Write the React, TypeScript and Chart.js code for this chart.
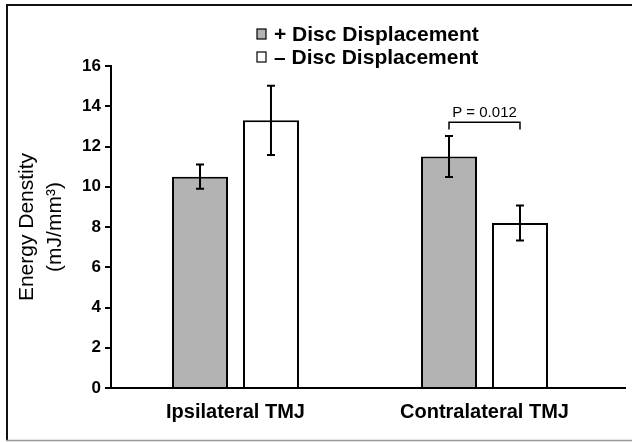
import React, { useEffect, useRef } from "react";
import { Chart, registerables } from "chart.js";

Chart.register(...registerables);

// ---- data ----
const categories = ["Ipsilateral TMJ", "Contralateral TMJ"];
const seriesLabels = ["+ Disc Displacement", "\u2013 Disc Displacement"];
const withDisplacement = [10.5, 11.5];
const withDisplacementErr = [0.6, 1.02];
const withoutDisplacement = [13.3, 8.2];
const withoutDisplacementErr = [1.72, 0.87];
const yTickValues = [0, 2, 4, 6, 8, 10, 12, 14, 16];
const yTitle = ["Energy Denstity", "(mJ/mm\u00b3)"];
const pLabel = "P = 0.012";
const pCategoryIndex = 1;
const pBracketLevel = 13.2;
const pBracketDrop = 0.35;

const FONT = "'Liberation Sans', Arial, sans-serif";
const GRAY = "#b3b3b3";

const errors = [withDisplacementErr, withoutDisplacementErr];

const framePlugin = {
  id: "frame",
  beforeDraw(chart: any) {
    const ctx = chart.ctx;
    ctx.save();
    ctx.fillStyle = "#fff";
    ctx.fillRect(0, 0, chart.width, chart.height);
    ctx.strokeStyle = "#111";
    ctx.lineWidth = 2;
    ctx.beginPath();
    ctx.moveTo(7, 441);
    ctx.lineTo(7, 5);
    ctx.lineTo(chart.width + 5, 5);
    ctx.stroke();
    ctx.strokeStyle = "#999";
    ctx.lineWidth = 1.5;
    ctx.beginPath();
    ctx.moveTo(6, 440.5);
    ctx.lineTo(chart.width + 5, 440.5);
    ctx.stroke();
    ctx.restore();
  },
};

const extrasPlugin = {
  id: "extras",
  afterDatasetsDraw(chart: any) {
    const ctx = chart.ctx;
    const y = chart.scales.y;
    const area = chart.chartArea;
    ctx.save();
    // x-axis line extension
    ctx.strokeStyle = "#000";
    ctx.lineWidth = 2;
    ctx.beginPath();
    ctx.moveTo(area.left, area.bottom);
    ctx.lineTo(626, area.bottom);
    ctx.stroke();

    // error bars
    chart.data.datasets.forEach((ds: any, i: number) => {
      const meta = chart.getDatasetMeta(i);
      meta.data.forEach((bar: any, j: number) => {
        const v = ds.data[j];
        const e = errors[i][j];
        const yt = y.getPixelForValue(v + e);
        const yb = y.getPixelForValue(v - e);
        const x = bar.x;
        ctx.strokeStyle = "#000";
        ctx.lineWidth = 2;
        ctx.beginPath();
        ctx.moveTo(x, yt);
        ctx.lineTo(x, yb);
        ctx.moveTo(x - 4, yt);
        ctx.lineTo(x + 4, yt);
        ctx.moveTo(x - 4, yb);
        ctx.lineTo(x + 4, yb);
        ctx.stroke();
      });
    });

    // significance bracket
    const b0 = chart.getDatasetMeta(0).data[pCategoryIndex];
    const b1 = chart.getDatasetMeta(1).data[pCategoryIndex];
    const yl = y.getPixelForValue(pBracketLevel);
    const yd = y.getPixelForValue(pBracketLevel - pBracketDrop);
    ctx.lineWidth = 1.5;
    ctx.beginPath();
    ctx.moveTo(b0.x, yd);
    ctx.lineTo(b0.x, yl);
    ctx.lineTo(b1.x, yl);
    ctx.lineTo(b1.x, yd);
    ctx.stroke();
    ctx.fillStyle = "#000";
    ctx.font = `15px ${FONT}`;
    ctx.textAlign = "center";
    ctx.textBaseline = "alphabetic";
    ctx.fillText(pLabel, (b0.x + b1.x) / 2, yl - 5);

    // legend
    chart.data.datasets.forEach((ds: any, i: number) => {
      const cy = 34 + i * 23;
      ctx.fillStyle = ds.backgroundColor;
      ctx.fillRect(257, cy - 5, 9, 10);
      ctx.strokeStyle = "#000";
      ctx.lineWidth = 1.2;
      ctx.strokeRect(257, cy - 5, 9, 10);
      ctx.fillStyle = "#000";
      ctx.font = `bold 21px ${FONT}`;
      ctx.textAlign = "left";
      ctx.textBaseline = "middle";
      ctx.fillText(ds.label, 274, cy + 1);
    });
    ctx.restore();
  },
};

export default function App() {
  const ref = useRef<HTMLCanvasElement>(null);
  useEffect(() => {
    if (!ref.current) return;
    const chart = new Chart(ref.current, {
      type: "bar",
      data: {
        labels: categories,
        datasets: [
          {
            label: seriesLabels[0],
            data: withDisplacement,
            backgroundColor: GRAY,
            borderColor: "#000",
            borderWidth: 2,
            categoryPercentage: 0.57,
            barPercentage: 0.789,
          },
          {
            label: seriesLabels[1],
            data: withoutDisplacement,
            backgroundColor: "#ffffff",
            borderColor: "#000",
            borderWidth: 2,
            categoryPercentage: 0.57,
            barPercentage: 0.789,
          },
        ],
      },
      options: {
        responsive: false,
        animation: false,
        devicePixelRatio: 1,
        layout: { padding: { left: 0, right: 23, top: 66, bottom: 0 } },
        plugins: { legend: { display: false }, tooltip: { enabled: false } },
        scales: {
          x: {
            grid: { display: false },
            border: { display: true, color: "#000", width: 2 },
            ticks: { color: "#000", font: { family: FONT, size: 20, weight: "bold" }, padding: 4 },
            afterFit: (s: any) => { s.height = 54; },
          },
          y: {
            min: yTickValues[0],
            max: yTickValues[yTickValues.length - 1],
            afterBuildTicks: (s: any) => { s.ticks = yTickValues.map((v) => ({ value: v })); },
            grid: { display: true, drawOnChartArea: false, drawTicks: true, tickLength: 6, color: "#000", lineWidth: 2 },
            border: { display: true, color: "#000", width: 2 },
            ticks: { color: "#000", font: { family: FONT, size: 17, weight: "bold" }, padding: 4 },
            title: {
              display: true,
              text: yTitle,
              color: "#000",
              font: { family: FONT, size: 21, weight: "normal", lineHeight: 1.35 },
              padding: { top: 13, bottom: 0 },
            },
            afterFit: (s: any) => { s.width = 111; },
          },
        },
      },
      plugins: [framePlugin, extrasPlugin],
    });
    return () => chart.destroy();
  }, []);
  return (
    <div style={{ position: "fixed", left: 0, top: 0, width: 632, height: 442, background: "#fff" }}>
      <canvas ref={ref} width={632} height={442} style={{ display: "block" }} />
    </div>
  );
}
